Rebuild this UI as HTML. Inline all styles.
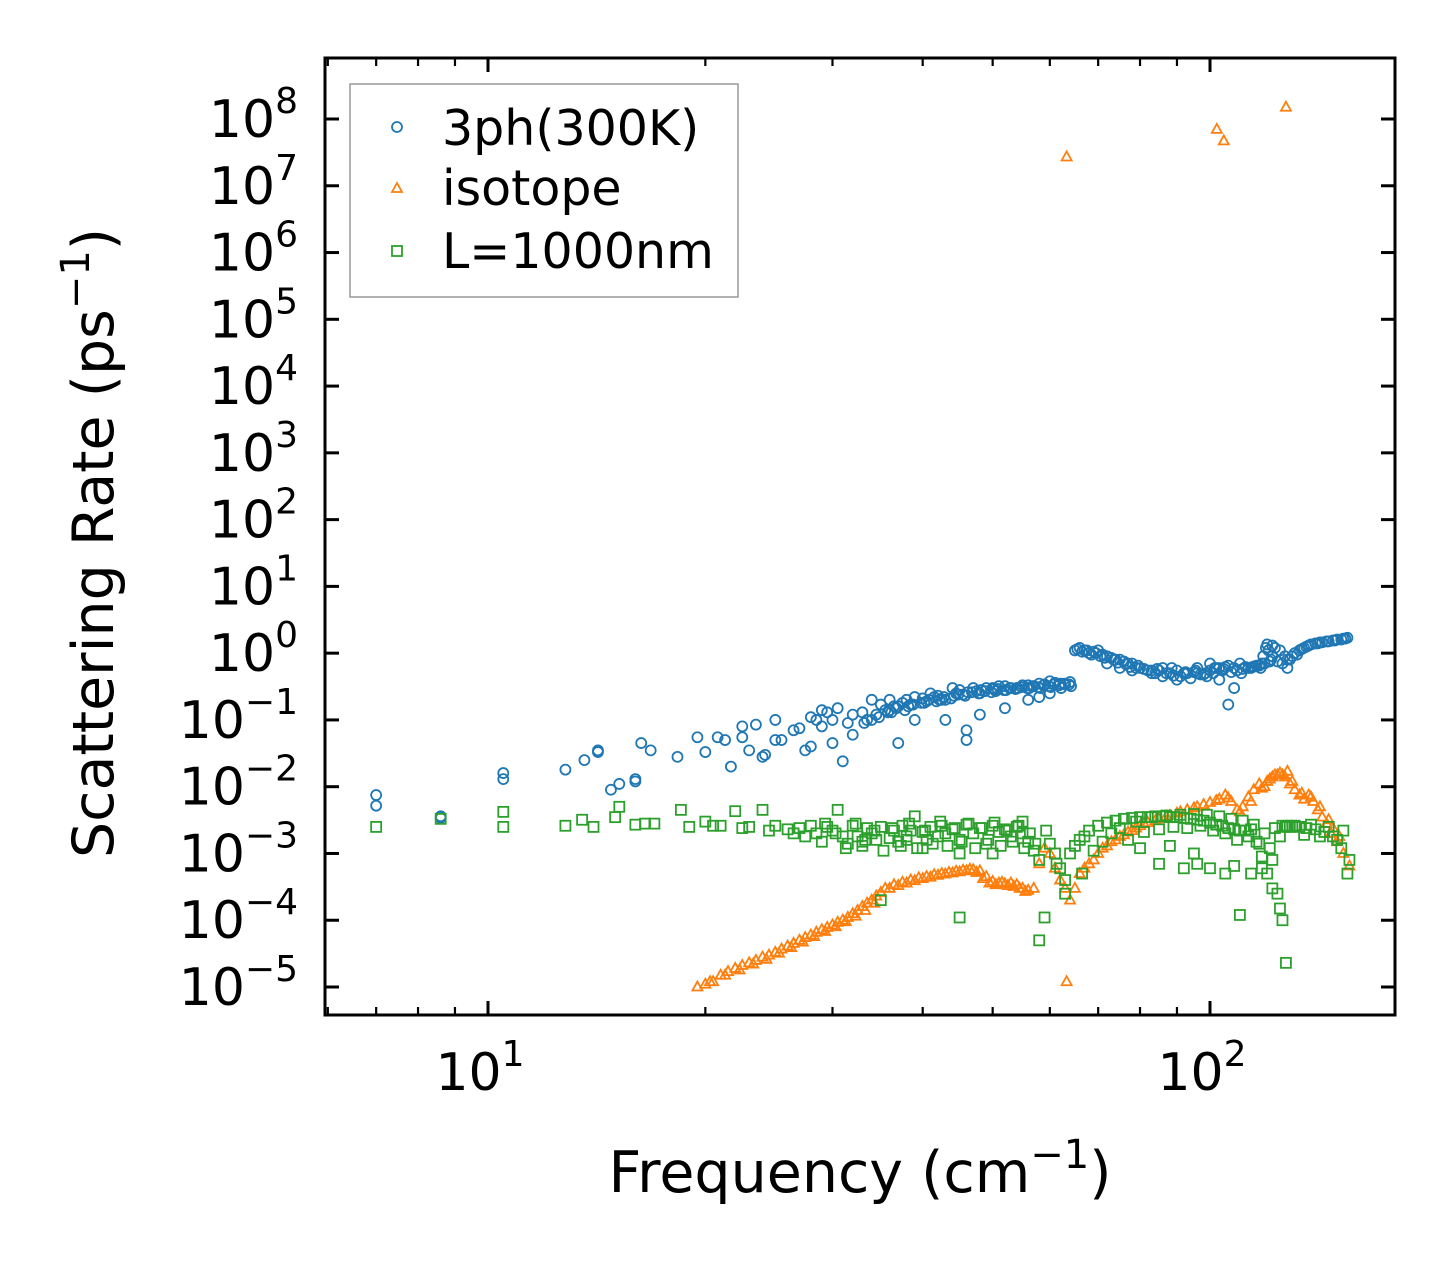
<!DOCTYPE html>
<html><head><meta charset="utf-8"><style>
html,body{margin:0;padding:0;background:#fff;}
svg text{font-family:"DejaVu Sans","Liberation Sans",sans-serif;fill:#000;}
</style></head><body>
<svg id="chart" width="1455" height="1265" viewBox="0 0 1455 1265" xmlns="http://www.w3.org/2000/svg">
<rect width="1455" height="1265" fill="#fff"/>
<g id="marks"></g>
<g id="axes"></g>
<text x="860" y="1192" font-size="57" text-anchor="middle">Frequency (cm<tspan dy="-24" font-size="40">−1</tspan><tspan dy="24">)</tspan></text>
<text transform="translate(113,543) rotate(-90)" font-size="57" text-anchor="middle">Scattering Rate (ps<tspan dy="-24" font-size="40">−1</tspan><tspan dy="24">)</tspan></text>
<g>
<rect x="350" y="84" width="388" height="213" fill="#fff" stroke="#999" stroke-width="1.5"/>
<circle cx="397" cy="127" r="5" fill="none" stroke="#1f77b4" stroke-width="1.8"/>
<text x="442" y="145" font-size="49">3ph(300K)</text>
<path d="M397,183 L402,192 L392,192 Z" fill="none" stroke="#ff7f0e" stroke-width="1.8"/>
<text x="442" y="205" font-size="49">isotope</text>
<rect x="392" y="246" width="10" height="10" fill="none" stroke="#2ca02c" stroke-width="1.8"/>
<text x="442" y="268" font-size="49">L=1000nm</text>
</g>
</svg>
<script>
const blueFreq=[7.0,7.0,8.6,8.6,10.5,10.5,12.8,13.6,14.2,14.2,14.8,15.2,16.0,16.0,16.3,16.8,18.3,19.5,20.0,20.8,21.3,21.7,22.5,22.5,23.0,23.5,24.0,24.2,25.0,25.0,25.5,26.5,27.0,27.5,28.0,28.0,28.5,29.0,29.0,29.5,30.0,30.0,30.5,31.0,31.5,32.0,32.0,33.0,33.5,34.0,34.0,34.5,35.0,35.5,36.0,36.0,36.5,37.0,37.0,37.5,38.0,38.5,39.0,39.0,40.0,40.5,41.0,41.5,42.0,42.5,43.0,43.0,44.0,44.5,45.0,45.5,46.0,46.0,47.0,47.5,48.0,48.0,49.0,50.0,50.5,51.0,52.0,52.0,53.0,54.0,55.0,56.0,56.0,57.0,58.0,58.0,59.0,60.0,60.0,61.0,62.0,63.0,64.0,65.0,66.0,67.0,68.0,69.0,70.0,71.0,72.0,72.0,73.0,74.0,75.0,75.0,76.0,77.0,78.0,78.0,80.0,81.0,83.0,83.0,85.0,86.0,86.0,88.0,90.0,90.0,92.0,93.0,95.0,96.0,96.0,98.0,100.0,100.0,102.0,103.0,103.0,105.0,106.0,106.0,108.0,108.0,110.0,112.0,113.0,115.0,116.0,118.0,119.0,121.0,122.0,122.0,123.0,125.0,127.0,128.0,128.0,130.0,131.0,133.0,135.0,137.0,140.0,142.0,145.0,148.0,150.0,153.0,155.0,
33.2,34.8,35.8,36.8,37.8,38.8,39.8,40.8,41.8,42.8,43.8,44.8,45.8,46.8,47.8,48.8,49.8,50.8,51.8,52.8,53.8,54.8,55.8,56.8,57.8,58.8,59.8,60.8,61.8,62.8,63.8,65.5,66.5,67.5,68.5,69.5,70.5,71.5,73.5,74.5,76.5,77.5,79.0,82.0,84.0,87.0,89.0,91.0,94.0,97.0,99.0,101.0,104.0,107.0,109.0,111.0,114.0,117.0,118.5,119.5,120.0,120.5,124.0,126.0,129.0,132.0,134.0,136.0,138.0,141.0,143.0,146.0,149.0,152.0,154.0,
36.2,38.2,40.2,42.2,44.2,46.2,48.2,50.2,52.2,54.2,56.2,58.2,60.2,62.2,64.2,79.5,84.5,88.5,92.5,95.5,98.5,101.5,104.5,110.5,114.5,117.5,121.5];
const blueRate=[0.0075,0.0052,0.0036,0.0034,0.016,0.013,0.018,0.025,0.035,0.033,0.009,0.011,0.013,0.012,0.045,0.035,0.028,0.055,0.033,0.055,0.05,0.02,0.08,0.055,0.035,0.085,0.028,0.03,0.1,0.05,0.05,0.07,0.075,0.035,0.04,0.11,0.1,0.14,0.08,0.13,0.1,0.045,0.15,0.024,0.09,0.12,0.06,0.13,0.1,0.1,0.2,0.12,0.17,0.14,0.14,0.2,0.16,0.16,0.045,0.18,0.2,0.17,0.22,0.1,0.21,0.19,0.25,0.22,0.23,0.2,0.2,0.1,0.3,0.25,0.28,0.24,0.05,0.07,0.3,0.27,0.25,0.12,0.3,0.3,0.27,0.32,0.32,0.15,0.3,0.3,0.33,0.33,0.2,0.32,0.35,0.22,0.34,0.38,0.25,0.36,0.35,0.34,0.37,1.1,1.2,1.1,1.0,1.05,1.1,0.95,0.9,0.7,0.85,0.8,0.8,0.6,0.75,0.7,0.7,0.55,0.6,0.58,0.55,0.5,0.55,0.6,0.45,0.5,0.55,0.4,0.5,0.5,0.52,0.5,0.6,0.48,0.55,0.7,0.6,0.6,0.4,0.62,0.65,0.17,0.3,0.6,0.7,0.62,0.6,0.63,0.65,0.7,0.7,0.75,1.3,0.9,1.2,1.1,0.9,0.8,0.6,0.9,1.0,1.1,1.2,1.3,1.4,1.45,1.5,1.55,1.6,1.65,1.7,
0.09,0.11,0.13,0.15,0.14,0.17,0.18,0.2,0.19,0.22,0.21,0.24,0.23,0.26,0.25,0.27,0.26,0.29,0.28,0.3,0.29,0.31,0.3,0.32,0.31,0.33,0.32,0.34,0.33,0.35,0.34,1.15,1.05,1.1,0.95,1.0,0.9,0.85,0.8,0.72,0.68,0.62,0.6,0.55,0.5,0.5,0.46,0.45,0.42,0.48,0.45,0.5,0.55,0.52,0.55,0.58,0.6,0.65,0.9,1.2,1.35,1.1,0.75,0.7,0.8,0.95,1.15,1.25,1.35,1.4,1.45,1.5,1.55,1.6,1.65,
0.13,0.16,0.18,0.2,0.23,0.26,0.28,0.29,0.28,0.3,0.3,0.3,0.31,0.3,0.32,0.65,0.58,0.6,0.52,0.55,0.5,0.6,0.58,0.5,0.62,0.6,0.8];
const isoFreq=[19.5,20.0,20.5,21.0,21.5,22.0,22.5,23.0,23.5,24.0,24.5,25.0,25.5,26.0,26.5,27.0,27.5,28.0,28.5,29.0,29.5,30.0,30.5,31.0,31.5,32.0,32.5,33.0,33.5,34.0,34.5,35.0,36.0,37.0,38.0,39.0,40.0,41.0,42.0,43.0,44.0,45.0,46.0,47.0,48.0,49.0,50.0,51.0,52.0,53.0,54.0,55.0,56.0,57.0,58.0,59.0,60.0,61.0,62.0,63.0,64.0,65.0,66.0,67.0,68.0,69.0,70.0,72.0,74.0,76.0,78.0,80.0,82.0,85.0,88.0,90.0,93.0,96.0,100.0,103.0,105.0,107.0,109.0,111.0,113.0,115.0,117.0,119.0,121.0,123.0,125.0,127.0,129.0,131.0,133.0,135.0,137.0,139.0,141.0,143.0,145.0,147.0,150.0,153.0,156.0,63.3,102.2,104.5,127.4,
20.3,21.3,22.3,23.3,24.3,25.3,26.3,27.3,28.3,29.3,30.3,31.3,32.3,33.3,34.3,35.5,36.5,37.5,38.5,39.5,40.5,41.5,42.5,43.5,44.5,45.5,46.5,47.5,48.5,49.5,50.5,51.5,52.5,53.5,54.5,55.5,71.0,73.0,75.0,77.0,79.0,81.0,84.0,87.0,91.0,95.0,98.0,102.0,106.0,110.0,114.0,118.0,120.0,122.0,124.0,126.0,128.0,130.0,134.0,138.0,142.0,146.0,148.0,151.0];
const isoRate=[1.0e-5,1.1e-5,1.2e-5,1.5e-5,1.7e-5,1.9e-5,2.1e-5,2.3e-5,2.5e-5,2.8e-5,3.0e-5,3.3e-5,3.7e-5,4.1e-5,4.5e-5,5.0e-5,5.5e-5,6.0e-5,6.6e-5,7.2e-5,7.8e-5,8.5e-5,9.3e-5,1.0e-4,1.1e-4,1.25e-4,1.4e-4,1.6e-4,1.8e-4,2.0e-4,2.3e-4,2.6e-4,3.0e-4,3.3e-4,3.6e-4,3.9e-4,4.2e-4,4.4e-4,4.7e-4,4.9e-4,5.1e-4,5.3e-4,5.5e-4,5.7e-4,5.5e-4,4.5e-4,3.8e-4,3.6e-4,3.5e-4,3.6e-4,3.4e-4,3.0e-4,2.8e-4,3.0e-4,7e-4,1.2e-3,1.0e-3,6e-4,4e-4,3e-4,2.0e-4,3e-4,5e-4,6e-4,7e-4,8e-4,1.0e-3,1.3e-3,1.6e-3,1.9e-3,2.2e-3,2.6e-3,2.9e-3,3.3e-3,3.7e-3,4.0e-3,4.5e-3,5.0e-3,5.8e-3,6.5e-3,7.5e-3,6.0e-3,4.5e-3,5.0e-3,7e-3,9e-3,1.1e-2,1.0e-2,1.3e-2,1.5e-2,1.6e-2,1.4e-2,1.1e-2,9e-3,7.5e-3,6.5e-3,7.5e-3,6e-3,4.5e-3,3.5e-3,2.8e-3,2.0e-3,1.5e-3,1.0e-3,6.5e-4,1.2e-5,7e7,4.7e7,1.5e8,
1.2e-5,1.5e-5,1.8e-5,2.2e-5,2.6e-5,3.2e-5,3.9e-5,4.7e-5,5.7e-5,6.8e-5,8.0e-5,9.5e-5,1.15e-4,1.4e-4,1.8e-4,3.0e-4,3.4e-4,3.7e-4,4.0e-4,4.3e-4,4.5e-4,4.8e-4,5.0e-4,5.2e-4,5.4e-4,5.6e-4,5.8e-4,5.2e-4,4.2e-4,3.6e-4,3.4e-4,3.7e-4,3.3e-4,3.2e-4,3.0e-4,2.7e-4,1.2e-3,1.5e-3,1.8e-3,2.1e-3,2.4e-3,2.8e-3,3.1e-3,3.6e-3,4.2e-3,4.8e-3,5.4e-3,6.2e-3,6.8e-3,4.2e-3,6.0e-3,9.5e-3,1.2e-2,1.4e-2,1.5e-2,1.5e-2,1.7e-2,1.2e-2,8e-3,7e-3,5e-3,3.2e-3,2.4e-3,1.8e-3];
const isoOutFreq=[63.3];
const isoOutRate=[2.7e7];
const bndFreq=[7.0,8.6,10.5,10.5,12.8,13.5,14.0,15.0,15.2,16.0,16.5,17.0,18.5,19.0,20.0,20.5,21.0,22.0,22.5,23.0,24.0,24.5,25.0,26.0,26.5,27.0,27.5,28.0,28.5,29.0,29.5,30.0,30.5,31.0,31.5,32.0,32.5,33.0,33.5,34.0,34.5,35.0,35.0,36.0,36.5,37.0,37.5,38.0,38.5,39.0,40.0,40.5,41.0,42.0,42.5,43.0,44.0,45.0,45.0,46.0,47.0,48.0,49.0,50.0,51.0,52.0,53.0,54.0,55.0,56.0,57.0,58.0,58.0,59.0,60.0,61.0,62.0,63.0,63.0,64.0,65.0,66.0,67.0,68.0,70.0,72.0,74.0,76.0,78.0,80.0,82.0,84.0,86.0,88.0,90.0,92.0,94.0,96.0,98.0,100.0,102.0,104.0,106.0,108.0,110.0,110.0,112.0,114.0,116.0,118.0,120.0,122.0,124.0,125.0,126.0,127.4,127.4,126.0,128.0,130.0,133.0,136.0,140.0,144.0,148.0,152.0,155.0,156.0,80.0,85.0,95.0,100.0,105.0,45.0,40.0,33.0,38.0,50.0,55.0,
29.3,30.3,31.3,32.3,33.3,34.3,35.3,36.3,37.3,38.3,39.3,40.3,41.3,42.3,43.3,44.3,45.3,46.3,47.3,48.3,49.3,50.3,51.3,52.3,53.3,54.3,55.3,56.3,57.3,59.3,61.3,66.5,69.0,71.0,73.0,75.0,77.0,79.0,81.0,83.0,85.0,87.0,89.0,91.0,93.0,95.0,97.0,99.0,101.0,103.0,105.0,107.0,109.0,111.0,113.0,115.0,117.0,119.0,121.0,123.0,125.0,129.0,131.0,135.0,138.0,142.0,146.0,150.0,153.0,88.0,92.0,96.0,108.0,114.0,118.0,122.0];
const bndRate=[2.5e-3,3.3e-3,2.5e-3,4.2e-3,2.6e-3,3.2e-3,2.5e-3,3.5e-3,5e-3,2.7e-3,2.8e-3,2.8e-3,4.5e-3,2.5e-3,3.0e-3,2.6e-3,2.6e-3,4.3e-3,2.4e-3,2.5e-3,4.5e-3,2.2e-3,2.6e-3,2.3e-3,2.0e-3,2.4e-3,1.8e-3,2.6e-3,2.0e-3,1.5e-3,2.5e-3,2.2e-3,4.5e-3,1.8e-3,1.4e-3,2.6e-3,1.8e-3,1.3e-3,2.4e-3,2.0e-3,1.6e-3,2.0e-4,2.5e-3,1.7e-3,2.2e-3,1.5e-3,2.6e-3,1.8e-3,2.2e-3,3.6e-3,2.1e-3,1.6e-3,2.5e-3,1.8e-3,2.6e-3,2.0e-3,2.3e-3,1.1e-4,1.6e-3,2.7e-3,2.0e-3,2.4e-3,1.4e-3,2.6e-3,2.1e-3,2.3e-3,1.8e-3,2.5e-3,2.0e-3,1.5e-3,1.1e-3,5e-5,8e-4,1.1e-4,1.4e-3,1.0e-3,6e-4,2.5e-4,4e-4,1.0e-3,1.3e-3,1.6e-3,1.8e-3,2.2e-3,2.6e-3,2.9e-3,3.1e-3,3.3e-3,3.4e-3,3.5e-3,3.5e-3,3.6e-3,3.6e-3,3.5e-3,3.5e-3,3.4e-3,3.3e-3,3.2e-3,3.1e-3,2.9e-3,2.7e-3,2.6e-3,2.4e-3,2.3e-3,1.2e-4,2.2e-3,2.2e-3,2.3e-3,1.5e-3,9e-4,5e-4,3e-4,2.5e-4,1.5e-4,1.0e-4,2.3e-5,2.5e-3,2.6e-3,2.6e-3,2.6e-3,2.5e-3,2.4e-3,2.3e-3,2.1e-3,1.8e-3,1.2e-3,5e-4,8e-4,1.2e-3,7e-4,1.0e-3,6e-4,5e-4,1.0e-3,1.2e-3,1.5e-3,1.6e-3,1.0e-3,3e-3,2.8e-3,
2.0e-3,1.2e-3,2.8e-3,1.6e-3,2.2e-3,1.1e-3,2.4e-3,1.3e-3,2.8e-3,1.2e-3,2.2e-3,1.4e-3,3.0e-3,1.3e-3,2.4e-3,1.5e-3,2.8e-3,1.2e-3,2.4e-3,1.6e-3,2.9e-3,1.3e-3,2.2e-3,1.5e-3,2.6e-3,1.2e-3,2.0e-3,1.4e-3,2.2e-3,7e-4,5e-4,1.1e-3,1.5e-3,2.0e-3,2.4e-3,1.6e-3,3.0e-3,2.1e-3,3.5e-3,2.3e-3,3.7e-3,2.5e-3,3.8e-3,2.4e-3,3.9e-3,2.6e-3,3.8e-3,2.2e-3,3.6e-3,2.0e-3,3.3e-3,1.6e-3,3.1e-3,1.8e-3,2.7e-3,1.4e-3,2.0e-3,1.2e-3,2.4e-3,1.8e-3,2.5e-3,2.6e-3,1.9e-3,2.7e-3,1.8e-3,2.5e-3,1.6e-3,2.2e-3,1.3e-3,6e-4,7e-4,6.5e-4,5e-4,6e-4,8e-4,4e-4];
const yTickExp=[8,7,6,5,4,3,2,1,0,-1,-2,-3,-4,-5];
const xTickExp=[1,2];

const L=325,R=1395,T=58,B=1015;
function xs(f){return 488+722*(Math.log10(f)-1);}
function ys(v){return 119+66.77*(8-Math.log10(v));}
const NS="http://www.w3.org/2000/svg";
const marks=document.getElementById('marks');
const axes=document.getElementById('axes');
function mk(tag,attrs,parent){const e=document.createElementNS(NS,tag);for(const k in attrs)e.setAttribute(k,attrs[k]);parent.appendChild(e);return e;}

const gB=mk('g',{},marks);


blueFreq.forEach((f,i)=>{const c=mk('circle',{cx:xs(f),cy:ys(blueRate[i]),r:5,fill:'none',stroke:'#1f77b4','stroke-width':1.8},gB);

});
const gO=mk('g',{},marks);


function tri(f,v){const x=xs(f),y=ys(v);const p=mk('path',{d:`M${x},${y-5.5} L${x+5},${y+3.5} L${x-5},${y+3.5} Z`,fill:'none',stroke:'#ff7f0e','stroke-width':1.8},gO);

}
isoFreq.forEach((f,i)=>tri(f,isoRate[i]));
isoOutFreq.forEach((f,i)=>tri(f,isoOutRate[i]));
const gG=mk('g',{},marks);


bndFreq.forEach((f,i)=>{const r=mk('rect',{x:xs(f)-5,y:ys(bndRate[i])-5,width:10,height:10,fill:'none',stroke:'#2ca02c','stroke-width':1.8},gG);

});

const fr=mk('rect',{x:L,y:T,width:R-L,height:B-T,fill:'none',stroke:'#000','stroke-width':3},axes);


yTickExp.forEach(e=>{const y=ys(Math.pow(10,e));
mk('line',{x1:L,x2:L+14,y1:y,y2:y,stroke:'#000','stroke-width':3},axes);
mk('line',{x1:R,x2:R-14,y1:y,y2:y,stroke:'#000','stroke-width':3},axes);
const t=mk('text',{x:298,y:y+18,'font-size':52,'text-anchor':'end'},axes);


t.innerHTML='10<tspan dy="-24" font-size="36">'+String(e).replace('-','−')+'</tspan>';});
for(let d=0;d<=2;d++){for(let m=1;m<=9;m++){const f=m*Math.pow(10,d);const x=xs(f);if(x<L||x>R)continue;const len=m===1?14:8;
mk('line',{x1:x,x2:x,y1:B,y2:B-len,stroke:'#000','stroke-width':m===1?3:2.2},axes);
mk('line',{x1:x,x2:x,y1:T,y2:T+len,stroke:'#000','stroke-width':m===1?3:2.2},axes);}}
xTickExp.forEach(e=>{const x=xs(Math.pow(10,e));const t=mk('text',{x:x-8,y:1090,'font-size':52,'text-anchor':'middle'},axes);


t.innerHTML='10<tspan dy="-24" font-size="36">'+e+'</tspan>';});
</script>
</body></html>
